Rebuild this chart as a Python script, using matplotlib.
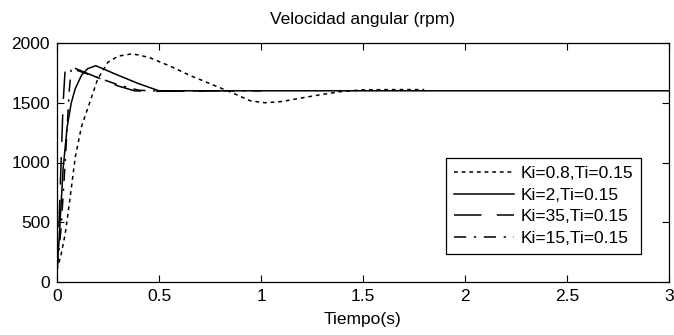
import matplotlib
matplotlib.use("Agg")
import matplotlib.pyplot as plt

plt.rcParams['font.family'] = ['Liberation Sans', 'DejaVu Sans']

# === Data ===
t_k08 = [0, 0.02, 0.04, 0.06, 0.09, 0.12, 0.16, 0.2, 0.25, 0.3, 0.37, 0.45, 0.55,
         0.65, 0.75, 0.85, 0.95, 1.02, 1.1, 1.2, 1.3, 1.4, 1.5, 1.6, 1.8]
v_k08 = [100, 230, 400, 650, 1050, 1300, 1500, 1700, 1840, 1890, 1910, 1880, 1810,
         1730, 1660, 1590, 1515, 1500, 1510, 1540, 1570, 1595, 1608, 1610, 1610]

t_k2 = [0, 0.01, 0.02, 0.03, 0.05, 0.07, 0.09, 0.12, 0.15, 0.19, 0.3, 0.4, 0.5, 3.0]
v_k2 = [100, 350, 650, 950, 1300, 1500, 1620, 1730, 1785, 1810, 1730, 1660, 1600, 1600]

t_k35 = [0, 0.01, 0.02, 0.03, 0.04, 0.05, 0.1, 0.2, 0.3, 0.38, 0.45, 0.8]
v_k35 = [100, 500, 1000, 1500, 1780, 1815, 1780, 1710, 1640, 1600, 1595, 1600]

t_k15 = [0, 0.02, 0.04, 0.06, 0.07, 0.1, 0.2, 0.3, 0.4, 0.45, 1.0]
v_k15 = [100, 450, 1000, 1600, 1790, 1770, 1710, 1650, 1605, 1600, 1600]

labels = ['Ki=0.8,Ti=0.15', 'Ki=2,Ti=0.15', 'Ki=35,Ti=0.15', 'Ki=15,Ti=0.15']

FS = 12.5

# === Plot ===
fig = plt.figure(figsize=(6.74, 3.35), dpi=100)
ax = fig.add_axes([57 / 674, 53 / 335, 612 / 674, 239 / 335])

ax.plot(t_k08, v_k08, color='black', lw=1.1, ls=(0, (2.5, 2.5)), label=labels[0])
ax.plot(t_k2, v_k2, color='black', lw=1.1, ls='-', label=labels[1])
ax.plot(t_k35, v_k35, color='black', lw=1.1, ls=(0, (18, 10)), label=labels[2])
ax.plot(t_k15, v_k15, color='black', lw=1.1, ls=(0, (8, 5, 1.5, 5)), label=labels[3])

ax.set_xlim(0, 3)
ax.set_ylim(0, 2000)
ax.set_xticks([0, 0.5, 1, 1.5, 2, 2.5, 3])
ax.set_xticklabels(['0', '0.5', '1', '1.5', '2', '2.5', '3'])
ax.set_yticks([0, 500, 1000, 1500, 2000])
ax.tick_params(direction='in', top=True, right=True, labelsize=FS, length=5, width=0.8, pad=5)
for s in ax.spines.values():
    s.set_linewidth(0.9)

ax.set_title('Velocidad angular (rpm)', fontsize=FS, pad=14)
ax.set_xlabel('Tiempo(s)', fontsize=FS, labelpad=6)

leg = ax.legend(loc='lower right', bbox_to_anchor=(0.954, 0.117), fontsize=FS,
                handlelength=3.5, fancybox=False, framealpha=1, edgecolor='black',
                borderpad=0.45, labelspacing=0.38, handletextpad=0.35, borderaxespad=0)
leg.get_frame().set_linewidth(0.9)

fig.savefig('out.png', dpi=100)
